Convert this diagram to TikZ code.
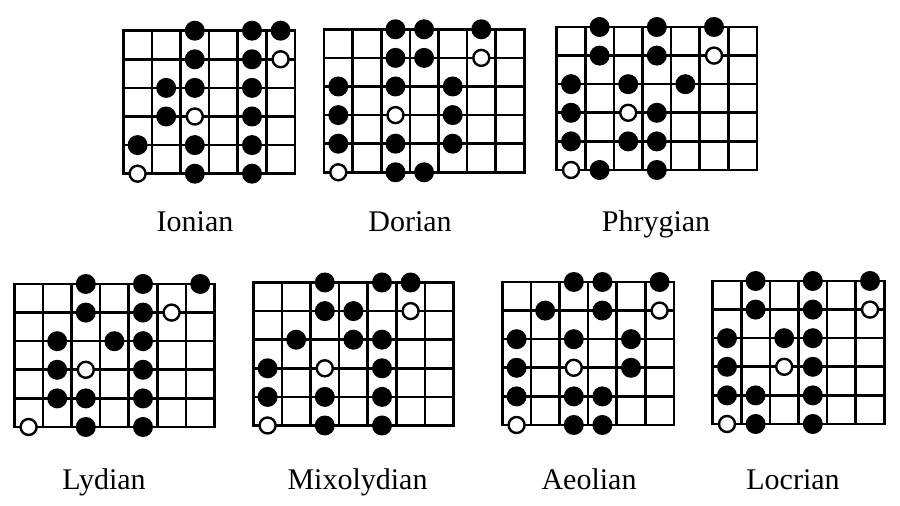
\documentclass[tikz,border=0pt]{standalone}
\usepackage{fontspec}
\setmainfont{Liberation Serif}

\begin{document}
\begin{tikzpicture}[x=0.5pt, y=-0.5pt,
    fret/.style={line width=1.3pt, line cap=rect},
    note/.style={fill=black},
    root/.style={fill=white, draw=black, line width=1.2pt},
    modename/.style={anchor=base, font=\fontsize{15}{18}\selectfont}]
    \useasboundingbox (0,0) rectangle (900,506);

    % Ionian
    \begin{scope}[shift={(123.3,30.7)}, x=14.3pt, y=-14.3pt]
        \foreach \i in {0,...,6} \draw[fret] (\i,0) -- (\i,5);
        \foreach \j in {0,...,5} \draw[fret] (0,\j) -- (6,\j);
        \foreach \c/\r in {2/0, 4/0, 5/0, 2/1, 4/1, 1/2, 2/2, 4/2, 1/3, 4/3, 0/4, 2/4, 4/4, 2/5, 4/5} {
            \fill[note] (\c+0.5,\r) circle (5pt);
        }
        \foreach \c/\r in {5/1, 2/3, 0/5} {
            \filldraw[root] (\c+0.5,\r) circle (4pt);
        }
    \end{scope}
    \node[modename] (ionian) at (195,231.5) {Ionian};

    % Dorian
    \begin{scope}[shift={(324,29.3)}, x=14.3pt, y=-14.3pt]
        \foreach \i in {0,...,7} \draw[fret] (\i,0) -- (\i,5);
        \foreach \j in {0,...,5} \draw[fret] (0,\j) -- (7,\j);
        \foreach \c/\r in {2/0, 3/0, 5/0, 2/1, 3/1, 0/2, 2/2, 4/2, 0/3, 4/3, 0/4, 2/4, 4/4, 2/5, 3/5} {
            \fill[note] (\c+0.5,\r) circle (5pt);
        }
        \foreach \c/\r in {5/1, 2/3, 0/5} {
            \filldraw[root] (\c+0.5,\r) circle (4pt);
        }
    \end{scope}
    \node[modename] (dorian) at (410,231.5) {Dorian};

    % Phrygian
    \begin{scope}[shift={(556.7,27)}, x=14.3pt, y=-14.3pt]
        \foreach \i in {0,...,7} \draw[fret] (\i,0) -- (\i,5);
        \foreach \j in {0,...,5} \draw[fret] (0,\j) -- (7,\j);
        \foreach \c/\r in {1/0, 3/0, 5/0, 1/1, 3/1, 0/2, 2/2, 4/2, 0/3, 3/3, 0/4, 2/4, 3/4, 1/5, 3/5} {
            \fill[note] (\c+0.5,\r) circle (5pt);
        }
        \foreach \c/\r in {5/1, 2/3, 0/5} {
            \filldraw[root] (\c+0.5,\r) circle (4pt);
        }
    \end{scope}
    \node[modename] (phrygian) at (656,231.5) {Phrygian};

    % Lydian
    \begin{scope}[shift={(14.3,284)}, x=14.3pt, y=-14.3pt]
        \foreach \i in {0,...,7} \draw[fret] (\i,0) -- (\i,5);
        \foreach \j in {0,...,5} \draw[fret] (0,\j) -- (7,\j);
        \foreach \c/\r in {2/0, 4/0, 6/0, 2/1, 4/1, 1/2, 3/2, 4/2, 1/3, 4/3, 1/4, 2/4, 4/4, 2/5, 4/5} {
            \fill[note] (\c+0.5,\r) circle (5pt);
        }
        \foreach \c/\r in {5/1, 2/3, 0/5} {
            \filldraw[root] (\c+0.5,\r) circle (4pt);
        }
    \end{scope}
    \node[modename] (lydian) at (104,490) {Lydian};

    % Mixolydian
    \begin{scope}[shift={(253.3,282.5)}, x=14.3pt, y=-14.3pt]
        \foreach \i in {0,...,7} \draw[fret] (\i,0) -- (\i,5);
        \foreach \j in {0,...,5} \draw[fret] (0,\j) -- (7,\j);
        \foreach \c/\r in {2/0, 4/0, 5/0, 2/1, 3/1, 1/2, 3/2, 4/2, 0/3, 4/3, 0/4, 2/4, 4/4, 2/5, 4/5} {
            \fill[note] (\c+0.5,\r) circle (5pt);
        }
        \foreach \c/\r in {5/1, 2/3, 0/5} {
            \filldraw[root] (\c+0.5,\r) circle (4pt);
        }
    \end{scope}
    \node[modename] (mixolydian) at (357.5,490) {Mixolydian};

    % Aeolian
    \begin{scope}[shift={(502.3,282)}, x=14.3pt, y=-14.3pt]
        \foreach \i in {0,...,6} \draw[fret] (\i,0) -- (\i,5);
        \foreach \j in {0,...,5} \draw[fret] (0,\j) -- (6,\j);
        \foreach \c/\r in {2/0, 3/0, 5/0, 1/1, 3/1, 0/2, 2/2, 4/2, 0/3, 4/3, 0/4, 2/4, 3/4, 2/5, 3/5} {
            \fill[note] (\c+0.5,\r) circle (5pt);
        }
        \foreach \c/\r in {5/1, 2/3, 0/5} {
            \filldraw[root] (\c+0.5,\r) circle (4pt);
        }
    \end{scope}
    \node[modename] (aeolian) at (589,490) {Aeolian};

    % Locrian
    \begin{scope}[shift={(712.7,281)}, x=14.3pt, y=-14.3pt]
        \foreach \i in {0,...,6} \draw[fret] (\i,0) -- (\i,5);
        \foreach \j in {0,...,5} \draw[fret] (0,\j) -- (6,\j);
        \foreach \c/\r in {1/0, 3/0, 5/0, 1/1, 3/1, 0/2, 2/2, 3/2, 0/3, 3/3, 0/4, 1/4, 3/4, 1/5, 3/5} {
            \fill[note] (\c+0.5,\r) circle (5pt);
        }
        \foreach \c/\r in {5/1, 2/3, 0/5} {
            \filldraw[root] (\c+0.5,\r) circle (4pt);
        }
    \end{scope}
    \node[modename] (locrian) at (793,490) {Locrian};
\end{tikzpicture}
\end{document}
